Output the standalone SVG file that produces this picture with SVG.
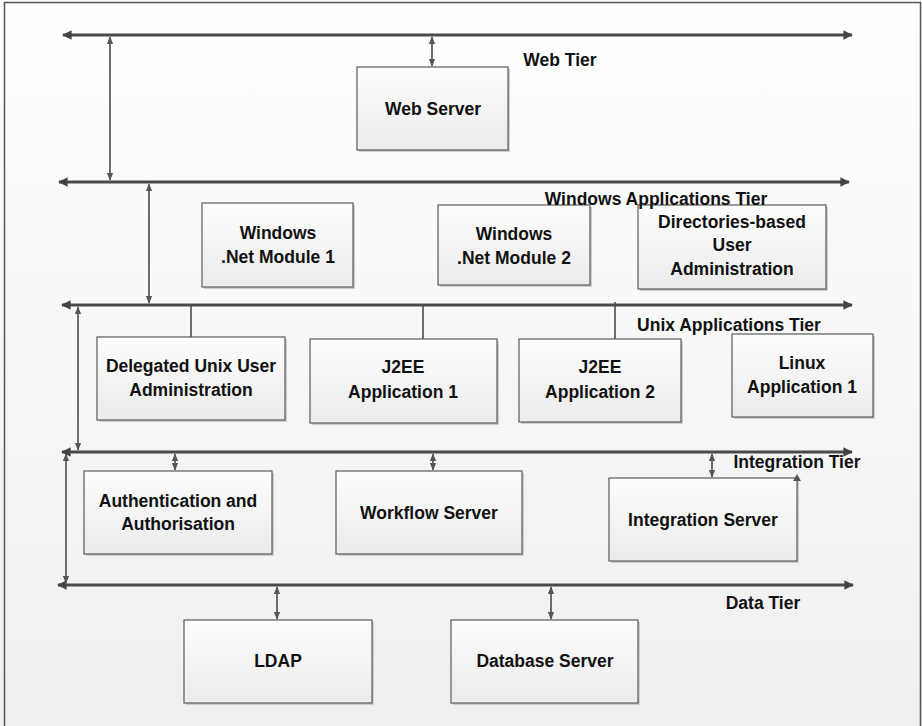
<svg xmlns="http://www.w3.org/2000/svg" width="922" height="726" viewBox="0 0 922 726">
<defs>
<linearGradient id="bg" x1="0" y1="0" x2="0" y2="1">
<stop offset="0" stop-color="#ffffff"/>
<stop offset="1" stop-color="#efefef"/>
</linearGradient>
<linearGradient id="boxg" x1="0" y1="0" x2="0" y2="1">
<stop offset="0" stop-color="#fdfdfd"/>
<stop offset="1" stop-color="#ebebeb"/>
</linearGradient>
<marker id="busR" viewBox="0 0 10 10" refX="9" refY="5" markerWidth="3.2" markerHeight="3.2" orient="auto" markerUnits="strokeWidth">
<path d="M0,0 L10,5 L0,10 z" fill="#444"/>
</marker>
<marker id="busL" viewBox="0 0 10 10" refX="1" refY="5" markerWidth="3.2" markerHeight="3.2" orient="auto" markerUnits="strokeWidth">
<path d="M10,0 L0,5 L10,10 z" fill="#444"/>
</marker>
<marker id="aE" viewBox="0 0 10 10" refX="9" refY="5" markerWidth="5" markerHeight="5" orient="auto" markerUnits="strokeWidth">
<path d="M0,1 L10,5 L0,9 z" fill="#555"/>
</marker>
<marker id="aS" viewBox="0 0 10 10" refX="1" refY="5" markerWidth="5" markerHeight="5" orient="auto" markerUnits="strokeWidth">
<path d="M10,1 L0,5 L10,9 z" fill="#555"/>
</marker>
</defs>
<style>
.box{fill:url(#boxg);stroke:#5a5a5a;stroke-width:1.2}
.sh{fill:#cccccc}
.t{font-family:"Liberation Sans",Arial,sans-serif;font-weight:bold;font-size:17.5px;fill:#111;text-anchor:middle}
.bus{stroke:#4a4a4a;stroke-width:3;fill:none;marker-start:url(#busL);marker-end:url(#busR)}
.c2{stroke:#4a4a4a;stroke-width:1.6;fill:none;marker-start:url(#aS);marker-end:url(#aE)}
.ln{stroke:#4a4a4a;stroke-width:1.6;fill:none}
</style>
<rect x="0" y="0" width="922" height="726" fill="url(#bg)"/>
<rect x="4.5" y="2.5" width="916" height="730" fill="none" stroke="#555" stroke-width="1.5"/>

<g id="connectors">
<line class="bus" x1="63" y1="35" x2="852" y2="35"/>
<line class="bus" x1="59" y1="182" x2="849" y2="182"/>
<line class="bus" x1="62" y1="305" x2="852" y2="305"/>
<line class="bus" x1="62" y1="452" x2="852" y2="452"/>
<line class="bus" x1="58" y1="585" x2="853" y2="585"/>
<line class="c2" x1="110" y1="37" x2="110" y2="180"/>
<line class="c2" x1="432" y1="37" x2="432" y2="66"/>
<line class="c2" x1="149" y1="184" x2="149" y2="303"/>
<line class="c2" x1="78" y1="307" x2="78" y2="450"/>
<line class="c2" x1="66" y1="454" x2="66" y2="583"/>
<line class="ln" x1="191" y1="305" x2="191" y2="337"/>
<line class="ln" x1="423" y1="305" x2="423" y2="340"/>
<line class="ln" x1="615" y1="302" x2="615" y2="339"/>
<line class="c2" x1="175" y1="454" x2="175" y2="470"/>
<line class="c2" x1="433" y1="454" x2="433" y2="470"/>
<line class="c2" x1="712" y1="454" x2="712" y2="477"/>
<line class="c2" x1="277" y1="587" x2="277" y2="619"/>
<line class="c2" x1="551" y1="587" x2="551" y2="619"/>
</g>

<g id="web-server">
<rect class="sh" x="359" y="69" width="151" height="83"/>
<rect class="box" x="357" y="67" width="151" height="83"/>
<text class="t" x="433" y="115">Web Server</text>
</g>
<g id="win-net-1">
<rect class="sh" x="204" y="205" width="151" height="84"/>
<rect class="box" x="202" y="203" width="151" height="84"/>
<text class="t" x="278" y="239">Windows</text>
<text class="t" x="278" y="263">.Net Module 1</text>
</g>
<g id="win-net-2">
<rect class="sh" x="440" y="207" width="152" height="80"/>
<rect class="box" x="438" y="205" width="152" height="80"/>
<text class="t" x="514" y="240">Windows</text>
<text class="t" x="514" y="264">.Net Module 2</text>
</g>
<g id="dir-user-admin">
<rect class="sh" x="640" y="207" width="188" height="84"/>
<rect class="box" x="638" y="205" width="188" height="84"/>
<text class="t" x="732" y="228">Directories-based</text>
<text class="t" x="732" y="251">User</text>
<text class="t" x="732" y="275">Administration</text>
</g>
<g id="delegated-unix">
<rect class="sh" x="99" y="339" width="188" height="83"/>
<rect class="box" x="97" y="337" width="188" height="83"/>
<text class="t" x="191" y="372">Delegated Unix User</text>
<text class="t" x="191" y="396">Administration</text>
</g>
<g id="j2ee-1">
<rect class="sh" x="312" y="341" width="187" height="84"/>
<rect class="box" x="310" y="339" width="187" height="84"/>
<text class="t" x="403" y="373">J2EE</text>
<text class="t" x="403" y="398">Application 1</text>
</g>
<g id="j2ee-2">
<rect class="sh" x="521" y="341" width="162" height="83"/>
<rect class="box" x="519" y="339" width="162" height="83"/>
<text class="t" x="600" y="373">J2EE</text>
<text class="t" x="600" y="398">Application 2</text>
</g>
<g id="linux-1">
<rect class="sh" x="734" y="336" width="141" height="83"/>
<rect class="box" x="732" y="334" width="141" height="83"/>
<text class="t" x="802" y="369">Linux</text>
<text class="t" x="802" y="393">Application 1</text>
</g>
<g id="auth">
<rect class="sh" x="86" y="473" width="188" height="83"/>
<rect class="box" x="84" y="471" width="188" height="83"/>
<text class="t" x="178" y="507">Authentication and</text>
<text class="t" x="178" y="530">Authorisation</text>
</g>
<g id="workflow">
<rect class="sh" x="338" y="473" width="186" height="83"/>
<rect class="box" x="336" y="471" width="186" height="83"/>
<text class="t" x="429" y="519">Workflow Server</text>
</g>
<g id="integration-server">
<rect class="sh" x="611" y="480" width="188" height="83"/>
<rect class="box" x="609" y="478" width="188" height="83"/>
<path d="M793,481 L797,474 L801,481 z" fill="#555"/>
<text class="t" x="703" y="526">Integration Server</text>
</g>
<g id="ldap">
<rect class="sh" x="186" y="622" width="188" height="83"/>
<rect class="box" x="184" y="620" width="188" height="83"/>
<text class="t" x="278" y="667">LDAP</text>
</g>
<g id="database">
<rect class="sh" x="453" y="622" width="187" height="83"/>
<rect class="box" x="451" y="620" width="187" height="83"/>
<text class="t" x="545" y="667">Database Server</text>
</g>

<g id="tier-labels">
<text class="t" x="560" y="66">Web Tier</text>
<text class="t" x="656" y="205">Windows Applications Tier</text>
<text class="t" x="729" y="331">Unix Applications Tier</text>
<text class="t" x="797" y="468">Integration Tier</text>
<text class="t" x="763" y="609">Data Tier</text>
</g>
</svg>
